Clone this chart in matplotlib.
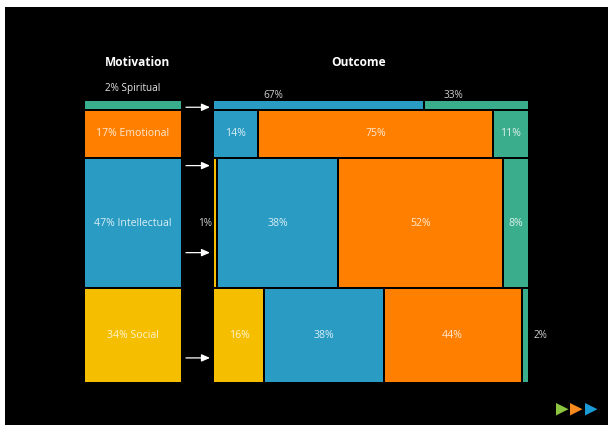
import matplotlib
matplotlib.use("Agg")
import matplotlib.pyplot as plt
from matplotlib.patches import Rectangle, Polygon

# ---------------- data ----------------
motivations = ["Spiritual", "Emotional", "Intellectual", "Social"]
motivation_share = [2, 17, 47, 34]
outcome_colors_order = ["yellow", "blue", "orange", "green"]
# outcome shares per motivation row (yellow, blue, orange, green); None = absent
outcome_spiritual = [None, 67, None, 33]
outcome_emotional = [None, 14, 75, 11]
outcome_intellectual = [1, 38, 52, 8]
outcome_social = [16, 38, 44, 2]
outcomes = [outcome_spiritual, outcome_emotional, outcome_intellectual, outcome_social]
arrow_rows = [0, 2, 2, 3]          # rows with an arrow
arrow_frac = [0.5, 0.05, 0.73, 0.74]

# ---------------- style ----------------
COL = {"yellow": "#f5bf00", "blue": "#2a9cc3", "orange": "#ff8000", "green": "#3aae8c"}
LEFT_COL = {"Spiritual": COL["green"], "Emotional": COL["orange"],
            "Intellectual": COL["blue"], "Social": COL["yellow"]}
FONT = ["Open Sans", "DejaVu Sans"]
plt.rcParams["font.family"] = FONT

fig = plt.figure(figsize=(6.11, 4.28), dpi=100, facecolor="white")
ax = fig.add_axes([0, 0, 1, 1])
ax.set_xlim(0, 611)
ax.set_ylim(428, 0)
ax.axis("off")
ax.add_patch(Rectangle((5, 7), 603, 418, facecolor="black", edgecolor="none"))

TXT = (1, 1, 1, 0.82)
FS_IN = 7.6
FS_OUT = 7.2

# layout
top, total_h, gap = 101, 281, 2.2
min_h = 7.5
lx, lw = 85, 96
rx, rw = 214, 314
scale = (total_h - 3 * gap - min_h) / (100 - motivation_share[0])
heights = [min_h] + [s * scale for s in motivation_share[1:]]

ax.text(lx + lw / 2 + 5, 62, "Motivation", color="white", fontsize=8.6,
        fontweight="bold", ha="center", va="center")
ax.text(rx + 145, 62, "Outcome", color="white", fontsize=8.6,
        fontweight="bold", ha="center", va="center")

y = top
row_bounds = []
for i, (name, share, h) in enumerate(zip(motivations, motivation_share, heights)):
    ax.add_patch(Rectangle((lx, y), lw, h, facecolor=LEFT_COL[name], edgecolor="none"))
    label = f"{share}% {name}"
    if h < 15:
        ax.text(lx + lw / 2, y - 13, label, color=(1, 1, 1, 0.9), fontsize=FS_OUT,
                ha="center", va="center")
    else:
        ax.text(lx + lw / 2, y + h / 2, label, color=TXT, fontsize=FS_IN,
                ha="center", va="center")
    row_bounds.append((y, h))
    # outcome segments
    vals = outcomes[i]
    tot = sum(v for v in vals if v is not None)
    x = rx
    for cname, v in zip(outcome_colors_order, vals):
        if v is None:
            continue
        w = v / tot * rw
        x0, x1 = x + (1 if x > rx else 0), x + w - (1 if x + w < rx + rw - 0.5 else 0)
        ax.add_patch(Rectangle((x0, y), x1 - x0, h, facecolor=COL[cname], edgecolor="none"))
        lab = f"{v}%"
        if h < 15:
            ax.text(x + w * 0.28, y - 5.5, lab, color=TXT, fontsize=FS_OUT,
                    ha="center", va="center")
        elif w < 15:
            if x < rx + 5:
                ax.text(rx - 9, y + h / 2, lab, color=TXT, fontsize=FS_OUT,
                        ha="center", va="center")
            else:
                ax.text(rx + rw + 13, y + h / 2, lab, color=TXT, fontsize=FS_OUT,
                        ha="center", va="center")
        else:
            ax.text(x + w / 2, y + h / 2, lab, color=TXT, fontsize=FS_IN,
                    ha="center", va="center")
        x += w
    y += h + gap

# arrows
for r, f in zip(arrow_rows, arrow_frac):
    yb, hb = row_bounds[r]
    ya = yb + hb * f + (2.5 if r == 0 else 0)
    ax.annotate("", xy=(210, ya), xytext=(186, ya),
                arrowprops=dict(arrowstyle="-|>,head_length=0.5,head_width=0.22",
                                color="white", lw=0.9, shrinkA=0, shrinkB=0))

# logo triangles
for cx, c in zip([556, 570, 585], ["#8cc63e", "#f7891f", "#1a9ad6"]):
    ax.add_patch(Polygon([(cx, 403), (cx, 415.5), (cx + 12.5, 409.2)],
                         closed=True, facecolor=c, edgecolor="none"))

fig.savefig("out.png", dpi=100, facecolor="white")
